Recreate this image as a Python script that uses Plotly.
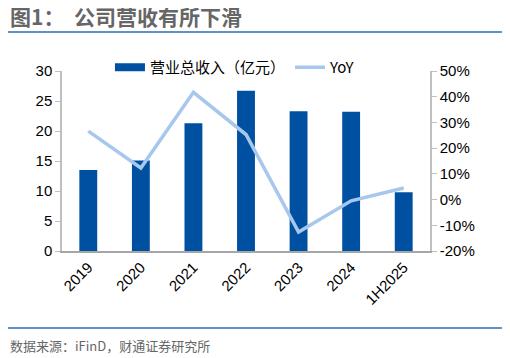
import plotly.graph_objects as go

categories = ["2019", "2020", "2021", "2022", "2023", "2024", "1H2025"]
revenue = [13.5, 15.1, 21.3, 26.7, 23.3, 23.2, 9.8]
yoy = [26.6, 12.3, 41.7, 25.3, -12.6, -0.5, 4.5]

left_ticks = [0, 5, 10, 15, 20, 25, 30]
right_ticks = [-20, -10, 0, 10, 20, 30, 40, 50]
right_labels = [f"{v}%" for v in right_ticks]

# the page body keeps its default 8px margin, so lay out in page pixels minus 8
OFF = 8
W, H = 510, 358
L, R, T, B = 62 - OFF, 80 + OFF, 71 - OFF, 107 + OFF
PW, PH = W - L - R, H - T - B

def px(x):
    return (x - OFF - L) / PW

def py(y):
    return (H - B - (y - OFF)) / PH

BAR_COLOR = "#0050A2"
LINE_COLOR = "#A7C7EC"
RULE_COLOR = "#2E6DB4"

fig = go.Figure()
fig.add_trace(go.Bar(
    x=categories, y=revenue, name="营业总收入（亿元）",
    marker=dict(color=BAR_COLOR, line=dict(width=0)), width=0.34,
    showlegend=False,
))
# legend entry drawn as a wide swatch like the reference
fig.add_trace(go.Scatter(
    x=[None], y=[None], name="营业总收入（亿元）", mode="lines",
    line=dict(color=BAR_COLOR, width=8),
))
fig.add_trace(go.Scatter(
    x=categories, y=yoy, name="YoY", yaxis="y2", mode="lines",
    line=dict(color=LINE_COLOR, width=3.5),
))

axis_font = dict(family="Liberation Sans, Arial", size=15, color="#000000")

fig.update_layout(
    width=W, height=H,
    margin=dict(l=L, r=R, t=T, b=B, autoexpand=False),
    paper_bgcolor="white", plot_bgcolor="white",
    showlegend=True,
    legend=dict(
        orientation="h", x=0.47, xanchor="center",
        yref="container", y=1 - (51 - OFF) / H, yanchor="top",
        font=dict(family="Noto Sans CJK SC", size=15, color="#000000"),
        itemwidth=30, bgcolor="rgba(0,0,0,0)",
    ),
    xaxis=dict(
        type="category", tickangle=-45, tickfont=axis_font, automargin=False,
        showline=True, linecolor="#A6A6A6", linewidth=1.5,
        ticks="", showgrid=False,
    ),
    yaxis=dict(
        range=[0, 30], tickvals=left_ticks, tickfont=axis_font, automargin=False,
        showline=True, linecolor="#BFBFBF", linewidth=1.5,
        ticks="outside", tickcolor="#BFBFBF", ticklen=5,
        showgrid=False, zeroline=False,
    ),
    yaxis2=dict(
        range=[-20, 50], tickvals=right_ticks, ticktext=right_labels,
        tickfont=axis_font, overlaying="y", side="right", automargin=False,
        showline=True, linecolor="#BFBFBF", linewidth=1.5,
        ticks="outside", tickcolor="#BFBFBF", ticklen=5,
        showgrid=False, zeroline=False,
    ),
    shapes=[
        dict(type="line", xref="paper", yref="paper", layer="above",
             x0=px(8), x1=px(505), y0=py(32), y1=py(32),
             line=dict(color=RULE_COLOR, width=1.5)),
        dict(type="line", xref="paper", yref="paper", layer="above",
             x0=px(8), x1=px(505), y0=py(328), y1=py(328),
             line=dict(color=RULE_COLOR, width=1.5)),
    ],
    annotations=[
        dict(text="<b>图1：  公司营收有所下滑</b>", xref="paper", yref="paper",
             x=px(8), xanchor="left", y=py(16), yanchor="middle", showarrow=False,
             font=dict(family="Noto Sans CJK SC", size=21, color="#666666")),
        dict(text="数据来源：iFinD，财通证券研究所", xref="paper", yref="paper",
             x=px(8), xanchor="left", y=py(345), yanchor="middle", showarrow=False,
             font=dict(family="Noto Sans CJK SC", size=13, color="#666666")),
    ],
)

fig.write_html("out.html", config={"displayModeBar": False})
